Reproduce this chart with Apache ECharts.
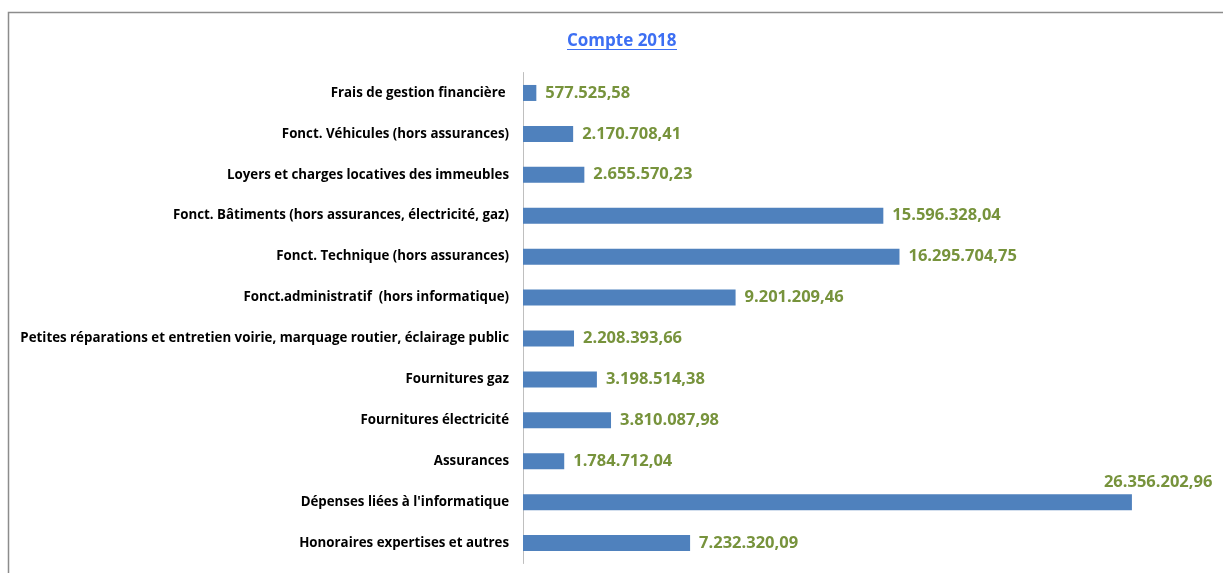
<!DOCTYPE html>
<html>
<head>
<meta charset="utf-8">
<script src="https://cdn.jsdelivr.net/npm/echarts@6/dist/echarts.min.js"></script>
<style>
  html, body { margin: 0; padding: 0; background: #fff; }
  #chart { width: 1223px; height: 573px; }
</style>
</head>
<body>
<div id="chart"></div>
<script>
var categories = [
  'Frais de gestion financière ',
  'Fonct. Véhicules (hors assurances)',
  'Loyers et charges locatives des immeubles',
  'Fonct. Bâtiments (hors assurances, électricité, gaz)',
  'Fonct. Technique (hors assurances)',
  'Fonct.administratif  (hors informatique)',
  'Petites réparations et entretien voirie, marquage routier, éclairage public',
  'Fournitures gaz',
  'Fournitures électricité',
  'Assurances',
  "Dépenses liées à l'informatique",
  'Honoraires expertises et autres'
];
var values = [577525.58, 2170708.41, 2655570.23, 15596328.04, 16295704.75, 9201209.46,
  2208393.66, 3198514.38, 3810087.98, 1784712.04, 26356202.96, 7232320.09];

function fmt(n) {
  var parts = n.toFixed(2).split('.');
  return parts[0].replace(/\B(?=(\d{3})+(?!\d))/g, '.') + ',' + parts[1];
}

var maxIdx = values.indexOf(Math.max.apply(null, values));
var seriesData = values.map(function (v, i) {
  if (i === maxIdx) {
    // Excel pushes the longest label above the bar end
    return { value: v, label: { position: 'right', offset: [-37, -20] } };
  }
  return v;
});

var myChart = echarts.init(document.getElementById('chart'));
var option = {
  animation: false,
  title: {
    text: 'Compte 2018',
    left: 567,
    top: 33,
    padding: 0,
    textStyle: { fontFamily: 'Open Sans', fontSize: 17, fontWeight: 'bold', color: '#3d6ff3' }
  },
  graphic: [
    { type: 'rect', shape: { x: 8.5, y: 12.5, width: 1400, height: 800 },
      style: { fill: 'none', stroke: '#8c8c8c', lineWidth: 1.5 } },
    { type: 'line', shape: { x1: 567, y1: 49.5, x2: 677, y2: 49.5 },
      style: { stroke: '#3d6ff3', lineWidth: 1 } }
  ],
  grid: { left: 523, right: 30, top: 72.5, bottom: 9.5, containLabel: false },
  xAxis: {
    type: 'value',
    min: 0,
    max: 29000000,
    show: false
  },
  yAxis: {
    type: 'category',
    data: categories,
    inverse: true,
    axisLine: { lineStyle: { color: '#bfbfbf', width: 1 } },
    axisTick: { show: false },
    axisLabel: {
      margin: 14,
      fontFamily: 'Open Sans',
      fontSize: 13.3,
      fontWeight: 'bold',
      color: '#000'
    }
  },
  series: [{
    type: 'bar',
    data: seriesData,
    barWidth: 16,
    itemStyle: { color: '#4f81bd' },
    label: {
      show: true,
      position: 'right',
      distance: 9,
      formatter: function (p) { return fmt(p.value); },
      fontFamily: 'Open Sans',
      fontSize: 16.5,
      fontWeight: 'bold',
      color: '#77933c'
    }
  }]
};
myChart.setOption(option);
</script>
</body>
</html>
